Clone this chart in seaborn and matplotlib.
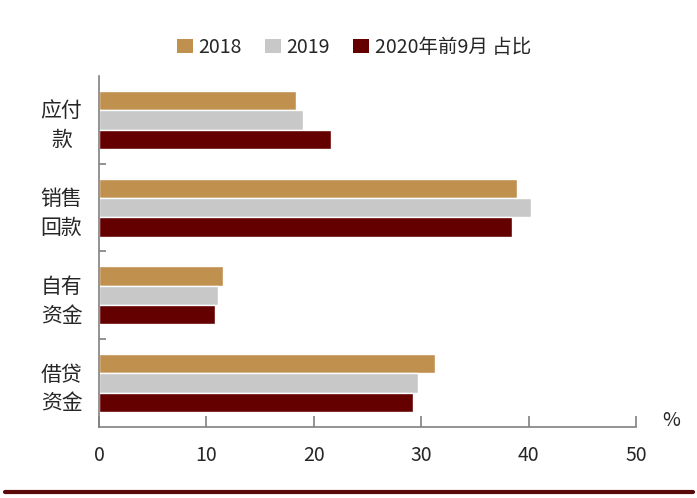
import matplotlib
matplotlib.use("Agg")
import matplotlib.pyplot as plt
import seaborn as sns
import pandas as pd
from matplotlib.patches import Patch
from matplotlib.lines import Line2D

categories = ["应付\n款", "销售\n回款", "自有\n资金", "借贷\n资金"]
series_names = ["2018", "2019", "2020年前9月 占比"]
v2018 = [18.3, 38.9, 11.5, 31.3]
v2019 = [19.0, 40.2, 11.1, 29.7]
v2020 = [21.6, 38.5, 10.8, 29.2]
x_ticks = [0, 10, 20, 30, 40, 50]
colors = ["#C0904E", "#C8C8C8", "#640000"]

rows = []
for name, vals in zip(series_names, [v2018, v2019, v2020]):
    for c, v in zip(categories, vals):
        rows.append({"cat": c, "series": name, "val": v})
df = pd.DataFrame(rows)

sns.set_theme(style="white")
plt.rcParams['font.family'] = ['Noto Sans CJK SC', 'DejaVu Sans']

fig = plt.figure(figsize=(6.97, 4.98), dpi=100)
ax = fig.add_axes([99/697, 71/498, 537/697, 351/498])

sns.barplot(data=df, y="cat", x="val", hue="series", orient="h",
            palette=colors, width=0.66, ax=ax, legend=False,
            order=categories, hue_order=series_names, saturation=1)

ax.set_xlim(0, 50)
ax.set_ylim(3.5, -0.5)
ax.set_xticks(x_ticks)
ax.set_xticklabels([str(t) for t in x_ticks], fontsize=14)
ax.set_xlabel("")
ax.set_ylabel("")
for lbl in ax.get_yticklabels():
    lbl.set_fontsize(15)
    lbl.set_horizontalalignment("center")
    lbl.set_linespacing(1.4)
ax.tick_params(axis="y", which="major", length=0, pad=27)
ax.set_yticks([0.5, 1.5, 2.5], minor=True)
ax.tick_params(axis="y", which="minor", length=5, direction="in", color="#808080", width=1.2, left=True)
ax.tick_params(axis="x", which="major", length=8, direction="in", color="#808080", width=1.2, pad=13, bottom=True)

for s in ["top", "right"]:
    ax.spines[s].set_visible(False)
for s in ["left", "bottom"]:
    ax.spines[s].set_color("#808080")
    ax.spines[s].set_linewidth(1.2)

ax.text(1.065, -0.01, "%", transform=ax.transAxes, fontsize=14, ha="center", va="bottom")

handles = [Patch(facecolor=c, edgecolor="none") for c in colors]
fig.legend(handles, series_names, loc="center", bbox_to_anchor=(0.508, 0.905),
           ncol=3, frameon=False, fontsize=14, handlelength=0.8, handleheight=0.8,
           handletextpad=0.3, columnspacing=1.2)

fig.add_artist(Line2D([5/697, 693/697], [6/498, 6/498], color="#5A0A0A", linewidth=3))

fig.savefig("out.png", dpi=100, facecolor="white")
